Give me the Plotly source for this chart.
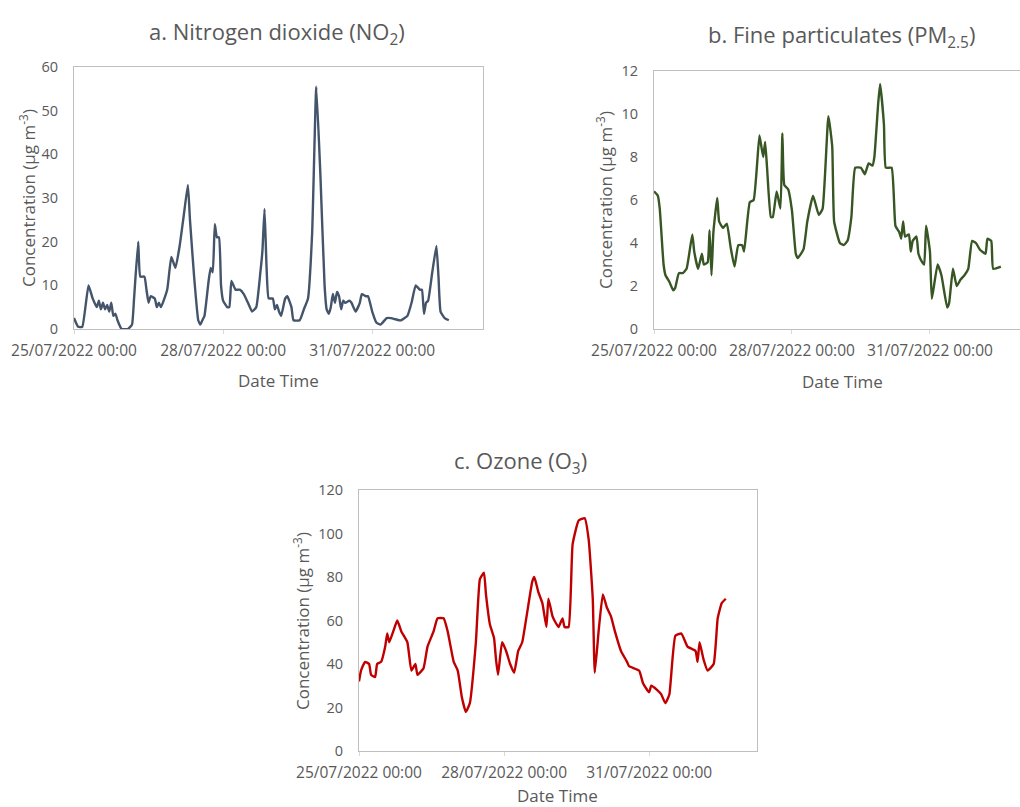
import pandas as pd
import plotly.graph_objects as go

# ---- data: hours after 25/07/2022 00:00 and concentrations (µg m-3) ----
START = pd.Timestamp("2022-07-25 00:00")

no2_hours = [0, 2, 4, 7, 9, 11, 12, 13, 14, 15, 16, 17, 18, 19, 20, 21, 23, 26, 28, 29,
             31, 32, 34, 35, 36, 37, 39, 40, 41, 42, 45, 47, 49, 51, 53, 55, 56, 58, 60, 61,
             62, 63, 65, 66, 67, 68, 69, 70, 71, 72, 74, 75, 76, 78, 80, 82, 84, 86, 88, 90,
             91, 92, 93, 94, 96, 97, 98, 99, 100, 102, 103, 105, 106, 109, 111, 113, 115, 117, 119, 121,
             122, 123, 124, 125, 126, 127, 128, 129, 130, 131, 133, 134, 136, 138, 139, 141, 142, 144, 146, 148,
             151, 153, 157, 158, 161, 163, 165, 167, 168, 169, 170, 171, 173, 175, 176, 177, 179, 181]
no2_values = [2.5, 0.5, 0.5, 10, 7, 5, 6.5, 4.5, 6, 4.5, 5.5, 4, 6, 3, 3.5, 2, 0, 0, 1, 7,
              20, 12, 12, 9, 6, 7.5, 7, 5, 6, 5, 9, 16.5, 14, 19, 26, 33, 25, 12, 2, 1,
              2, 3, 11, 14, 13, 24, 21, 21, 10, 6.5, 5, 5, 11, 9, 9, 8, 6, 4, 5, 13,
              18, 27.5, 14, 7, 7, 4.5, 5.5, 4, 3, 7, 7.5, 5, 2, 2, 4.5, 7, 22, 55.5, 35, 10,
              4.5, 3.5, 5, 8, 6, 8.5, 7.5, 4.5, 6.5, 6, 6.5, 6, 4, 6, 8, 7.5, 7.5, 4, 1.5, 1,
              2.5, 2.5, 2, 2, 3, 6, 10, 9, 9, 3.5, 6, 6.5, 13, 19, 12, 4, 2.5, 2]

pm25_hours = [0, 2, 3, 5, 6, 8, 10, 11, 13, 15, 17, 20, 21, 23, 25, 26, 28, 29, 30, 31,
              33, 34, 36, 38, 40, 42, 44, 46, 47, 50, 52, 55, 56, 57, 58, 59, 61, 62, 64, 66,
              67, 68, 70, 72, 74, 75, 78, 80, 83, 86, 88, 91, 93, 94, 97, 99, 101, 103, 105, 108,
              110, 112, 114, 115, 117, 118, 120, 121, 124, 126, 128, 129, 130, 131, 133, 134, 135, 137, 138, 140,
              141, 142, 144, 145, 148, 150, 153, 154, 156, 158, 160, 162, 164, 166, 168, 170, 173, 174, 176, 177,
              181]
pm25_values = [6.4, 6.2, 5.6, 3.0, 2.5, 2.2, 1.8, 1.9, 2.6, 2.6, 2.8, 4.4, 3.6, 2.8, 3.5, 3.0, 3.1, 4.6, 2.5, 4.5,
               6.1, 5.0, 4.7, 4.9, 3.8, 2.9, 3.9, 3.9, 3.6, 5.9, 6.0, 9.0, 8.5, 8.0, 8.7, 7.5, 5.2, 5.2, 6.4, 5.6,
               9.1, 6.7, 6.5, 5.5, 3.5, 3.3, 3.7, 5.0, 6.2, 5.3, 5.6, 9.9, 8.5, 5.0, 4.0, 3.9, 4.1, 5.2, 7.5, 7.5,
               7.2, 7.7, 7.6, 8.0, 10.5, 11.4, 9.5, 7.5, 7.5, 4.8, 4.5, 4.2, 5.0, 4.3, 4.4, 3.6, 4.1, 4.3, 3.5, 3.1,
               3.0, 4.8, 3.6, 1.4, 3.0, 2.5, 1.0, 1.2, 2.8, 2.0, 2.3, 2.5, 2.8, 4.1, 4.0, 3.7, 3.5, 4.2, 4.1, 2.8,
               2.9]

o3_hours = [0, 1, 3, 5, 6, 8, 9, 11, 13, 14, 15, 17, 19, 21, 24, 26, 28, 29, 32, 34,
            37, 39, 42, 44, 47, 49, 51, 53, 55, 58, 60, 62, 63, 65, 67, 68, 69, 71, 73, 75,
            77, 79, 81, 83, 86, 87, 89, 91, 93, 94, 96, 97, 99, 101, 102, 104, 106, 109, 112, 114,
            116, 117, 119, 121, 123, 125, 127, 130, 133, 134, 139, 141, 144, 145, 148, 150, 152, 154, 157, 160,
            163, 167, 168, 169, 171, 173, 176, 178, 180, 182]
o3_values = [32, 37, 41, 40, 35, 34, 40, 41, 48, 54, 50, 55, 60, 55, 50, 37, 40, 35, 38, 48,
             55, 61, 61, 55, 41, 37, 25, 18, 22, 50, 79, 82, 72, 58, 52, 42, 35, 50, 46, 40,
             36, 46, 50, 61, 78, 80, 73, 68, 57, 70, 62, 60, 57, 61, 57, 57, 95, 106, 107, 97,
             70, 36, 56, 72, 66, 62, 55, 46, 41, 39, 37, 31, 27, 30, 28, 26, 22, 26, 53, 54,
             48, 46, 41, 50, 42, 37, 40, 61, 68, 70]

# ---- page and style ----
W, H = 1020, 807
FONT = "Open Sans"
TXT = "#595959"
FRAME = "#BFBFBF"


def px_x(v):
    return v / W


def px_y(v):
    return 1 - v / H


def times(hours):
    return START + pd.to_timedelta(hours, unit="h")


# plot-area boxes in pixels, axis ranges and line colours for each panel
panels = [
    dict(h=no2_hours, v=no2_values, c="#44546A", x0=74, x1=483, y0=67, y1=329,
         yr=[0, 60], dt=10, xend="2022-08-02 05:30"),
    dict(h=pm25_hours, v=pm25_values, c="#375623", x0=654, x1=1020, y0=71, y1=329,
         yr=[0, 12], dt=2, xend="2022-08-01 23:00"),
    dict(h=o3_hours, v=o3_values, c="#C00000", x0=359, x1=757, y0=490, y1=751,
         yr=[0, 120], dt=20, xend="2022-08-02 05:30"),
]

fig = go.Figure()
layout = {}
for i, p in enumerate(panels, start=1):
    xa = "x" if i == 1 else f"x{i}"
    ya = "y" if i == 1 else f"y{i}"
    fig.add_trace(go.Scatter(
        x=times(p["h"]), y=p["v"], mode="lines", xaxis=xa, yaxis=ya,
        line=dict(color=p["c"], width=2.4, shape="spline", smoothing=0.4),
        showlegend=False, hoverinfo="x+y",
    ))
    xkey = "xaxis" if i == 1 else f"xaxis{i}"
    ykey = "yaxis" if i == 1 else f"yaxis{i}"
    layout[xkey] = dict(
        domain=[px_x(p["x0"]), px_x(p["x1"])], anchor=ya, automargin=False,
        range=["2022-07-25 00:00", p["xend"]],
        tick0="2022-07-25", dtick=3 * 86400000, tickformat="%d/%m/%Y %H:%M",
        showgrid=False, zeroline=False,
        showline=True, linecolor=FRAME, linewidth=1, mirror=True,
        ticks="outside", ticklen=4, tickcolor="#D9D9D9",
        tickfont=dict(family=FONT, size=15.5, color=TXT),
        ticklabelstandoff=3,
    )
    layout[ykey] = dict(
        domain=[px_y(p["y1"]), px_y(p["y0"])], anchor=xa, automargin=False,
        range=p["yr"], dtick=p["dt"], tick0=0,
        showgrid=False, zeroline=False,
        showline=True, linecolor=FRAME, linewidth=1, mirror=(i != 2),
        ticks="", tickfont=dict(family=FONT, size=14.5, color=TXT),
        ticklabelstandoff=12,
    )

ann = []
titles = [
    ("a. Nitrogen dioxide (NO<sub>2</sub>)", 277, 33),
    ("b. Fine particulates (PM<sub>2.5</sub>)", 841, 36),
    ("c. Ozone (O<sub>3</sub>)", 520, 462),
]
for text, x, y in titles:
    ann.append(dict(text=text, x=px_x(x), y=px_y(y), xref="paper", yref="paper",
                    showarrow=False, xanchor="center", yanchor="middle",
                    font=dict(family=FONT, size=22, color=TXT)))

ytitles = [(27, 198), (604, 200), (301, 621)]
for x, y in ytitles:
    ann.append(dict(text="Concentration (µg m<sup>-3</sup>)", x=px_x(x), y=px_y(y),
                    xref="paper", yref="paper", showarrow=False, textangle=-90,
                    xanchor="center", yanchor="middle",
                    font=dict(family=FONT, size=17, color=TXT)))

xtitles = [(278, 380), (842, 381), (557, 795)]
for x, y in xtitles:
    ann.append(dict(text="Date Time", x=px_x(x), y=px_y(y), xref="paper", yref="paper",
                    showarrow=False, xanchor="center", yanchor="middle",
                    font=dict(family=FONT, size=17, color=TXT)))

fig.update_layout(
    width=W, height=H, autosize=False,
    margin=dict(l=0, r=0, t=0, b=0, autoexpand=False),
    paper_bgcolor="white", plot_bgcolor="white",
    annotations=ann, **layout,
)

fig.write_html("out.html")
